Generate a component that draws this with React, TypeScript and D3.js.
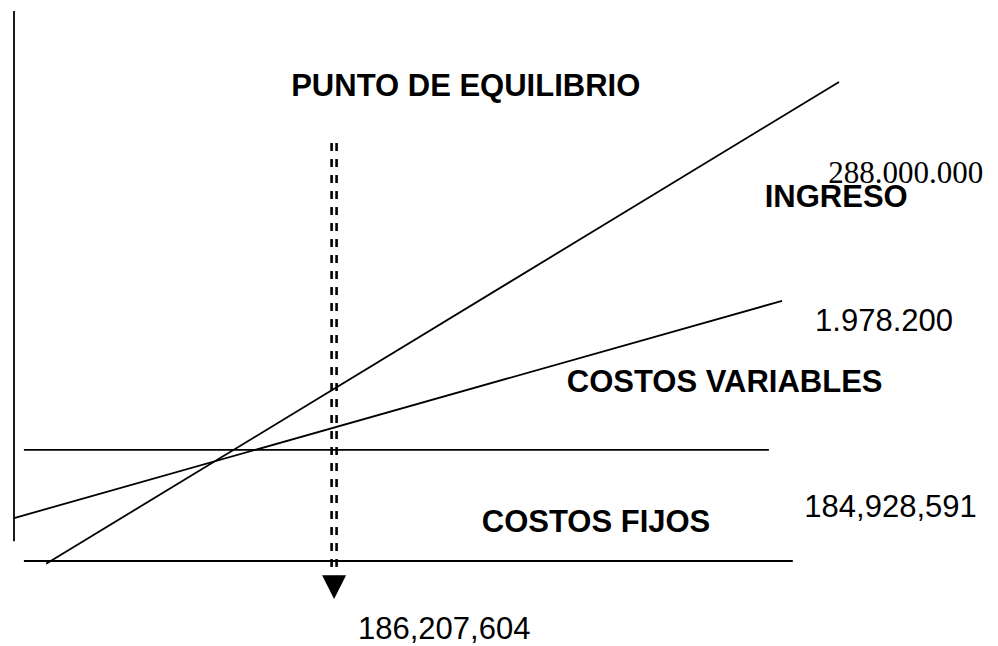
import React from 'react';
import * as d3 from 'd3';

// schematic break-even chart: x = units, y = money (arbitrary chart units)
const lineNames = ['axisY', 'axisX', 'costosFijos', 'ingreso', 'costosVariables'];
const lineX1 = [0, 1.2, 1.2, 3.9, 0];
const lineY1 = [3.6, 0, 20.2, -0.5, 7.8];
const lineX2 = [0, 94.4, 91.5, 100, 93.1];
const lineY2 = [100, 0, 20.2, 87.1, 47.3];

const equilibrioX = 38.8;
const equilibrioTop = 76;
const equilibrioBottom = -2.6;
const arrowTip = -6.9;

const labels = ['PUNTO DE EQUILIBRIO', '288.000.000', 'INGRESO', '1.978.200', 'COSTOS VARIABLES', '184,928,591', 'COSTOS FIJOS', '186,207,604'];
const labelX = [33.6, 98.7, 91.0, 97.1, 67.0, 95.8, 56.7, 41.7];
const labelY = [84.5, 68.7, 64.4, 41.8, 30.7, 8.0, 5.3, -14.2];
const labelBold = [true, false, true, false, true, false, true, false];
const labelSerif = [false, true, false, false, false, false, false, false];

const App = () => {
  const width = 998;
  const height = 646;

  const x = d3.scaleLinear().domain([0, 100]).range([14, 839]);
  const y = d3.scaleLinear().domain([0, 100]).range([561, 11]);

  const tipY = y(arrowTip);
  const baseY = y(equilibrioBottom);
  const cx = x(equilibrioX);
  const arrow = d3.line()([[cx - 12, baseY], [cx + 12, baseY], [cx, tipY]]) + 'Z';

  return (
    <div style={{ position: 'fixed', left: 0, top: 0 }}>
      <svg width={width} height={height} style={{ background: '#fff', display: 'block' }}>
        {lineNames.map((n, i) => (
          <line
            key={n}
            x1={x(lineX1[i])}
            y1={y(lineY1[i])}
            x2={x(lineX2[i])}
            y2={y(lineY2[i])}
            stroke="#000"
            strokeWidth={1.8}
          />
        ))}
        {[-2.5, 2.5].map(dx => (
          <line
            key={dx}
            x1={cx + dx}
            x2={cx + dx}
            y1={y(equilibrioTop)}
            y2={baseY}
            stroke="#000"
            strokeWidth={2.6}
            strokeDasharray="8 8"
          />
        ))}
        <path d={arrow} fill="#000" />
        {labels.map((t, i) => (
          <text
            key={t}
            x={x(labelX[i])}
            y={y(labelY[i])}
            fontFamily={labelSerif[i] ? 'Liberation Serif' : 'Liberation Sans'}
            fontWeight={labelBold[i] ? 'bold' : 'normal'}
            fontSize={31}
            fill="#000"
          >
            {t}
          </text>
        ))}
      </svg>
    </div>
  );
};

export default App;
